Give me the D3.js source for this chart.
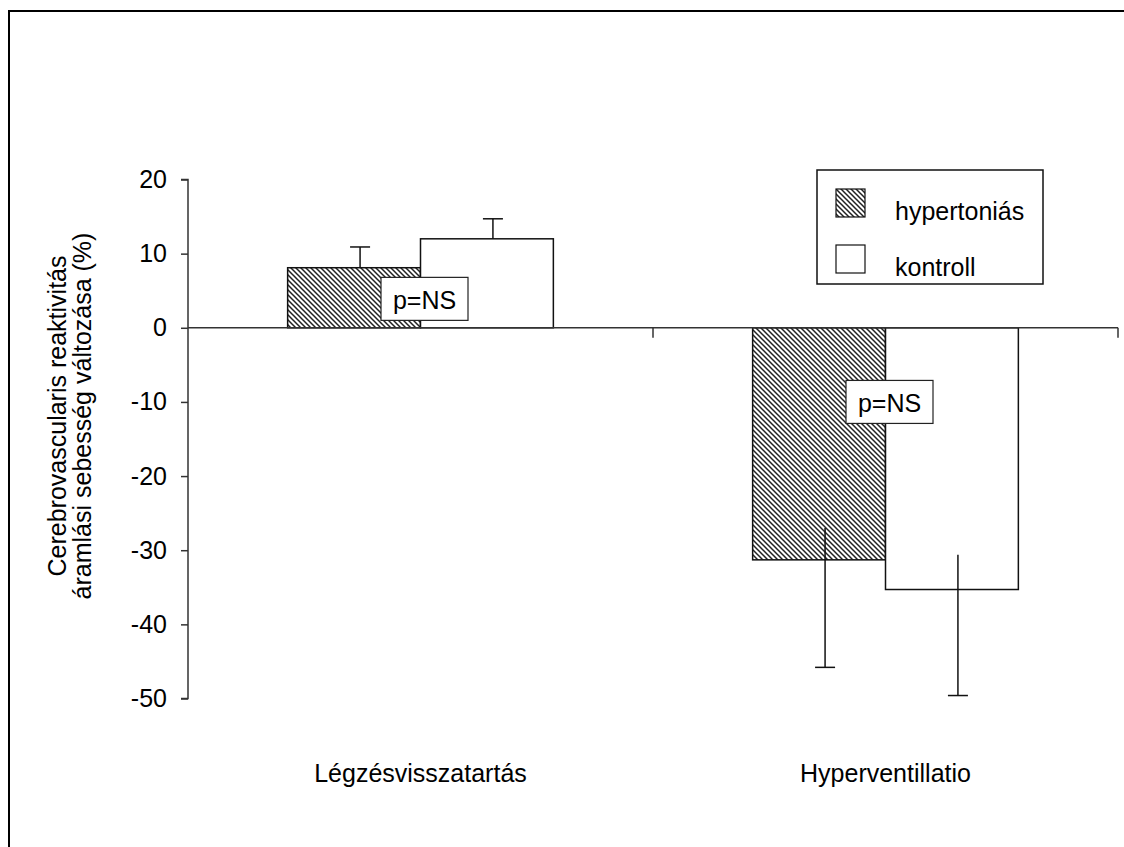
<!DOCTYPE html>
<html>
<head>
<meta charset="utf-8">
<script src="https://cdn.jsdelivr.net/npm/d3@7"></script>
<style>
  html, body { margin: 0; padding: 0; background: #fff; }
  svg { display: block; font-family: "Liberation Sans", Arial, sans-serif; }
</style>
</head>
<body>
<svg id="chart" width="1124" height="847"></svg>
<script>
// Categories and series
const categories = ["Légzésvisszatartás", "Hyperventillatio"];
const series = ["hypertoniás", "kontroll"];

// Mean change (%) per category, one array per series
const hypertonias = [8.1, -31.3];
const kontroll = [12.0, -35.3];

// Error bar extents (upper and lower end of each whisker)
const hypertoniasErrHigh = [10.9, -27.0];
const hypertoniasErrLow = [8.1, -45.8];
const kontrollErrHigh = [14.7, -30.6];
const kontrollErrLow = [12.0, -49.6];

// Y axis ticks
const yTicks = [20, 10, 0, -10, -20, -30, -40, -50];

// Significance annotations and the value level each one sits at
const pLabels = ["p=NS", "p=NS"];
const pLabelLevel = [3.9, -10.0];

const FONT = 25;

const svg = d3.select("#chart");

// Outer frame
svg.append("path")
  .attr("d", "M9,847 L9,11 L1124,11")
  .attr("fill", "none").attr("stroke", "#000").attr("stroke-width", 2);

const plot = { left: 188, right: 1118, top: 179.5, bottom: 698.5 };

const x = d3.scaleBand().domain(categories).range([plot.left, plot.right]).padding(0);
const xSub = d3.scaleBand().domain(series).range([0, x.bandwidth()])
  .paddingInner(0).paddingOuter(0.75);
const y = d3.scaleLinear().domain([-50, 20]).range([plot.bottom, plot.top]);

// Hatch pattern
const defs = svg.append("defs");
const pat = defs.append("pattern")
  .attr("id", "hatch").attr("patternUnits", "userSpaceOnUse")
  .attr("width", 5).attr("height", 5);
pat.append("rect").attr("width", 5).attr("height", 5).attr("fill", "#fff");
pat.append("path")
  .attr("d", "M-1,-1 L6,6 M4,-1 L6,1 M-1,4 L1,6")
  .attr("stroke", "#222").attr("stroke-width", 1.5);

const fills = { "hypertoniás": "url(#hatch)", "kontroll": "#fff" };

const rows = categories.map((c, i) => ({
  cat: c,
  bars: [
    { s: series[0], v: hypertonias[i], hi: hypertoniasErrHigh[i], lo: hypertoniasErrLow[i] },
    { s: series[1], v: kontroll[i], hi: kontrollErrHigh[i], lo: kontrollErrLow[i] }
  ]
}));

// Y axis
const yAxis = d3.axisLeft(y).tickValues(yTicks).tickSize(7).tickPadding(14)
  .tickFormat(d => String(d));
const gy = svg.append("g").attr("transform", `translate(${plot.left},0)`).call(yAxis);
gy.attr("font-size", FONT).attr("font-family", "Liberation Sans, Arial, sans-serif");
gy.select(".domain").attr("stroke", "#333").attr("stroke-width", 1.5)
  .attr("d", `M-7,${y(20)}H0V${y(-50)}H-7`);
gy.selectAll(".tick line").attr("stroke", "#333").attr("stroke-width", 1.5);
gy.selectAll(".tick text").attr("fill", "#000");

// Bars
const groups = svg.append("g").selectAll("g").data(rows).join("g")
  .attr("transform", d => `translate(${x(d.cat)},0)`);

groups.selectAll("rect").data(d => d.bars).join("rect")
  .attr("x", d => xSub(d.s))
  .attr("width", xSub.bandwidth())
  .attr("y", d => y(Math.max(0, d.v)))
  .attr("height", d => Math.abs(y(d.v) - y(0)))
  .attr("fill", d => fills[d.s])
  .attr("stroke", "#111").attr("stroke-width", 1.5);

// Error bars (whiskers sit slightly right of the bar centre)
const capW = 20, errShift = 6;
const ex = d => xSub(d.s) + xSub.bandwidth() / 2 + errShift;
const eb = groups.selectAll("g.err").data(d => d.bars).join("g").attr("class", "err");
eb.append("line")
  .attr("x1", ex).attr("x2", ex)
  .attr("y1", d => y(d.hi)).attr("y2", d => y(d.lo))
  .attr("stroke", "#111").attr("stroke-width", 1.5);
eb.append("line")
  .attr("x1", d => ex(d) - capW / 2)
  .attr("x2", d => ex(d) + capW / 2)
  .attr("y1", d => y(d.v >= 0 ? d.hi : d.lo))
  .attr("y2", d => y(d.v >= 0 ? d.hi : d.lo))
  .attr("stroke", "#111").attr("stroke-width", 1.5);

// X axis along zero
const xAxis = d3.axisBottom(x).tickSize(0).tickFormat("");
const gx = svg.append("g").attr("transform", `translate(0,${y(0)})`).call(xAxis);
gx.select(".domain").attr("stroke", "#333").attr("stroke-width", 1.5)
  .attr("d", `M${plot.left},0H${plot.right}`);
// Category separators
gx.selectAll("line.sep").data(categories).join("line").attr("class", "sep")
  .attr("x1", d => x(d) + x.bandwidth()).attr("x2", d => x(d) + x.bandwidth())
  .attr("y1", 0).attr("y2", 10)
  .attr("stroke", "#333").attr("stroke-width", 1.5);

// Category labels
svg.append("g").selectAll("text").data(categories).join("text")
  .attr("x", d => x(d) + x.bandwidth() / 2)
  .attr("y", 782)
  .attr("text-anchor", "middle")
  .attr("font-size", FONT)
  .text(d => d);

// p=NS boxes, spanning the boundary between the two bars
const pBoxW = 87, pBoxH = 43;
const pRows = categories.map((c, i) => ({ cat: c, label: pLabels[i], level: pLabelLevel[i] }));
const pg = svg.append("g").selectAll("g").data(pRows).join("g")
  .attr("transform", d => {
    const cx = x(d.cat) + xSub(series[1]) + 4;
    return `translate(${cx - pBoxW / 2},${y(d.level) - pBoxH / 2})`;
  });
pg.append("rect").attr("width", pBoxW).attr("height", pBoxH)
  .attr("fill", "#fff").attr("stroke", "#222").attr("stroke-width", 1.2);
pg.append("text").attr("x", pBoxW / 2).attr("y", 31.5)
  .attr("text-anchor", "middle").attr("font-size", FONT).text(d => d.label);

// Legend
const lg = svg.append("g").attr("transform", "translate(817,170)");
lg.append("rect").attr("width", 226).attr("height", 114)
  .attr("fill", "#fff").attr("stroke", "#111").attr("stroke-width", 1.5);
const li = lg.selectAll("g").data(series).join("g")
  .attr("transform", (d, i) => `translate(19,${19 + i * 56})`);
li.append("rect").attr("width", 29).attr("height", 28)
  .attr("fill", d => fills[d]).attr("stroke", "#111").attr("stroke-width", 1.2);
li.append("text").attr("x", 59).attr("y", 31).attr("font-size", FONT).text(d => d);

// Y axis title
const yt = svg.append("text")
  .attr("transform", "translate(0,416) rotate(-90)")
  .attr("text-anchor", "middle").attr("font-size", FONT);
yt.append("tspan").attr("x", 0).attr("y", 66).text("Cerebrovascularis reaktivitás");
yt.append("tspan").attr("x", 0).attr("y", 91).text("áramlási sebesség változása (%)");
</script>
</body>
</html>
